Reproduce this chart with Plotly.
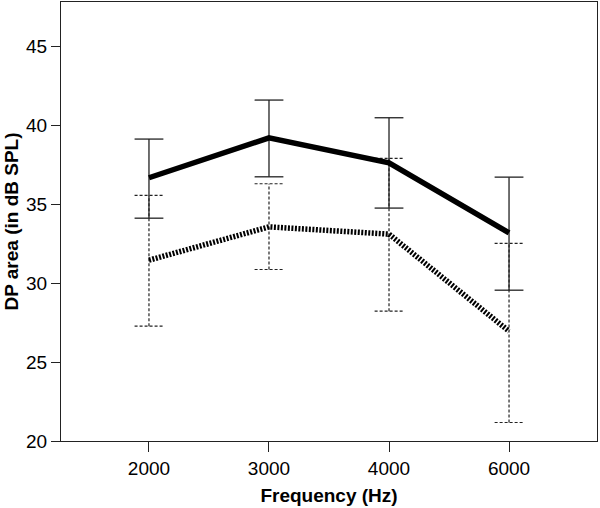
import plotly.graph_objects as go

freq_labels = ["2000", "3000", "4000", "6000"]
solid_mean = [36.67, 39.20, 37.62, 33.18]
solid_low = [34.11, 36.73, 34.75, 29.55]
solid_high = [39.12, 41.59, 40.47, 36.71]
dotted_mean = [31.45, 33.56, 33.10, 26.95]
dotted_low = [27.27, 30.86, 28.22, 21.17]
dotted_high = [35.55, 36.29, 37.90, 32.51]

xpos = list(range(len(freq_labels)))
cap = 0.12


def bar_paths(low, high):
    xs, ys = [], []
    for x, lo, hi in zip(xpos, low, high):
        xs += [x, x, None, x - cap, x + cap, None, x - cap, x + cap, None]
        ys += [lo, hi, None, lo, lo, None, hi, hi, None]
    return xs, ys


fig = go.Figure()
dx, dy = bar_paths(dotted_low, dotted_high)
fig.add_trace(go.Scatter(x=dx, y=dy, mode="lines", hoverinfo="skip",
                         line=dict(color="#222", width=1.2, dash="3px,2px"),
                         showlegend=False))
sx, sy = bar_paths(solid_low, solid_high)
fig.add_trace(go.Scatter(x=sx, y=sy, mode="lines", hoverinfo="skip",
                         line=dict(color="#222", width=1.3),
                         showlegend=False))
fig.add_trace(go.Scatter(x=xpos, y=dotted_mean, mode="lines",
                         line=dict(color="black", width=5.5, dash="2px,1.5px"),
                         showlegend=False))
fig.add_trace(go.Scatter(x=xpos, y=solid_mean, mode="lines",
                         line=dict(color="black", width=5.5),
                         showlegend=False))

fam = "Liberation Sans, Arial, sans-serif"
axis_font = dict(family=fam, size=19, color="black")
title_font = dict(family=fam, size=19, color="black")
fig.update_layout(
    width=600, height=508,
    margin=dict(l=61, r=3, t=2, b=67),
    paper_bgcolor="white", plot_bgcolor="white",
    font=axis_font,
    xaxis=dict(
        tickmode="array", tickvals=xpos, ticktext=freq_labels,
        range=[-0.733, 3.733], showgrid=False, zeroline=False,
        showline=True, linecolor="#222", linewidth=1.3, mirror=True,
        ticks="outside", ticklen=10, tickcolor="#222", tickwidth=1.3,
        tickfont=axis_font,
        title=dict(text="<b>Frequency (Hz)</b>", standoff=10, font=title_font),
    ),
    yaxis=dict(
        range=[20, 47.8], tickvals=[20, 25, 30, 35, 40, 45],
        showgrid=False, zeroline=False,
        showline=True, linecolor="#222", linewidth=1.3, mirror=True,
        ticks="outside", ticklen=9, tickcolor="#222", tickwidth=1.3,
        tickfont=axis_font,
        title=dict(text="<b>DP area (in dB SPL)</b>", standoff=2, font=title_font),
    ),
)

fig.write_html("out.html", config={"displayModeBar": False},
               post_script="document.body.style.margin='0';document.body.style.overflow='hidden';")
